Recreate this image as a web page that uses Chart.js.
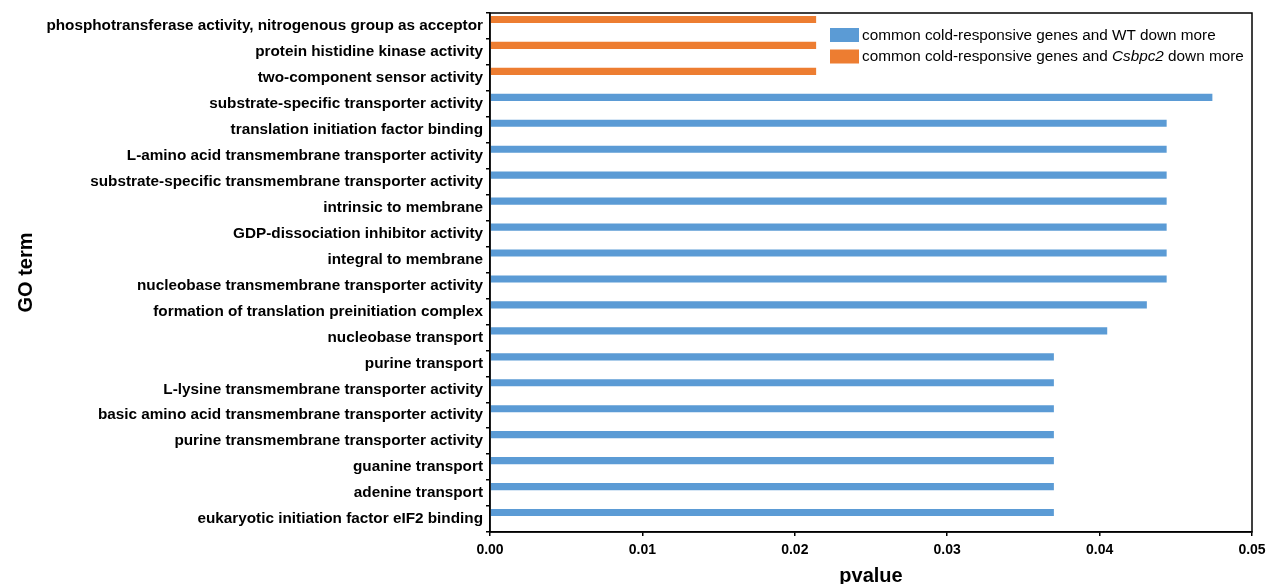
<!DOCTYPE html>
<html>
<head>
<meta charset="utf-8">
<script src="https://cdn.jsdelivr.net/npm/chart.js@4/dist/chart.umd.min.js"></script>
<style>
  html, body { margin: 0; padding: 0; background: #ffffff; }
  #wrap { width: 1268px; height: 584px; }
</style>
</head>
<body>
<div id="wrap"><canvas id="chart" width="1268" height="584"></canvas></div>
<script>
// GO terms, listed top to bottom
const goTerms = [
  'phosphotransferase activity, nitrogenous group as acceptor',
  'protein histidine kinase activity',
  'two-component sensor activity',
  'substrate-specific transporter activity',
  'translation initiation factor binding',
  'L-amino acid transmembrane transporter activity',
  'substrate-specific transmembrane transporter activity',
  'intrinsic to membrane',
  'GDP-dissociation inhibitor activity',
  'integral to membrane',
  'nucleobase transmembrane transporter activity',
  'formation of translation preinitiation complex',
  'nucleobase transport',
  'purine transport',
  'L-lysine transmembrane transporter activity',
  'basic amino acid transmembrane transporter activity',
  'purine transmembrane transporter activity',
  'guanine transport',
  'adenine transport',
  'eukaryotic initiation factor eIF2 binding'
];

// p-values: common cold-responsive genes and WT down more
const wtDownMore = [
  null, null, null,
  0.0474, 0.0444, 0.0444, 0.0444, 0.0444, 0.0444, 0.0444, 0.0444,
  0.0431, 0.0405,
  0.0370, 0.0370, 0.0370, 0.0370, 0.0370, 0.0370, 0.0370
];

// p-values: common cold-responsive genes and Csbpc2 down more
const csbpc2DownMore = [
  0.0214, 0.0214, 0.0214,
  null, null, null, null, null, null, null, null,
  null, null,
  null, null, null, null, null, null, null
];

const seriesNames = [
  'common cold-responsive genes and WT down more',
  'common cold-responsive genes and Csbpc2 down more'
];
const italicWord = 'Csbpc2';
const seriesColors = ['#5B9BD5', '#ED7D31'];

const xTickValues = [0, 0.01, 0.02, 0.03, 0.04, 0.05];

const FONT = '"Liberation Sans", Arial, sans-serif';

// frame around the plotting area
const framePlugin = {
  id: 'frame',
  afterDatasetsDraw(chart) {
    const { ctx, chartArea: a } = chart;
    ctx.save();
    ctx.strokeStyle = '#000';
    ctx.lineWidth = 1.5;
    ctx.strokeRect(a.left, a.top, a.right - a.left, a.bottom - a.top);
    ctx.restore();
  }
};

// legend drawn inside the plot, with the gene name in italics
const legendPlugin = {
  id: 'insideLegend',
  afterDraw(chart) {
    const { ctx, chartArea: a } = chart;
    const x0 = a.right - 422;
    const y0 = a.top + 15;
    const rowGap = 21.5;
    ctx.save();
    ctx.textBaseline = 'middle';
    chart.data.datasets.forEach((ds, i) => {
      if (!ds.inLegend) return;
      const y = y0 + i * rowGap;
      ctx.fillStyle = ds.backgroundColor;
      ctx.fillRect(x0, y, 29, 14);
      let x = x0 + 32;
      const parts = ds.label.split(new RegExp('(' + italicWord + ')'));
      parts.forEach(p => {
        if (!p) return;
        ctx.font = (p === italicWord ? 'italic ' : '') + '15.3px ' + FONT;
        ctx.fillStyle = '#000';
        ctx.fillText(p, x, y + 7.5);
        x += ctx.measureText(p).width;
      });
    });
    ctx.restore();
  }
};

new Chart(document.getElementById('chart'), {
  type: 'bar',
  data: {
    labels: goTerms,
    datasets: [
      { label: seriesNames[0], data: wtDownMore, backgroundColor: seriesColors[0], stack: 'go', inLegend: true },
      { label: seriesNames[1], data: csbpc2DownMore, backgroundColor: seriesColors[1], stack: 'go', inLegend: true },
      // empty companion slot, so each bar sits in the upper half of its row
      { label: '', data: goTerms.map(() => null), backgroundColor: 'rgba(0,0,0,0)', stack: 'pad', inLegend: false }
    ]
  },
  options: {
    indexAxis: 'y',
    responsive: false,
    animation: false,
    devicePixelRatio: 1,
    layout: { padding: { top: 13, right: 16, left: 0, bottom: 0 } },
    datasets: { bar: { barPercentage: 0.55, categoryPercentage: 1.0 } },
    plugins: { legend: { display: false }, tooltip: { enabled: false } },
    scales: {
      x: {
        type: 'linear',
        min: 0, max: 0.05,
        stacked: false,
        afterBuildTicks(scale) { scale.ticks = xTickValues.map(v => ({ value: v })); },
        afterFit(scale) {
          scale.height = 52;
          scale.paddingLeft = 0;
          scale.paddingRight = 0;
        },
        ticks: {
          color: '#000',
          padding: 6,
          font: { family: FONT, size: 14, weight: 'bold' },
          callback: v => Number(v).toFixed(2)
        },
        grid: { drawOnChartArea: false, tickLength: 4, color: '#000', lineWidth: 1.5 },
        border: { color: '#000', width: 1.5 },
        title: {
          display: true, text: 'pvalue', color: '#000',
          font: { family: FONT, size: 20, weight: 'bold' },
          padding: { top: 0, bottom: -4 }
        }
      },
      y: {
        type: 'category',
        stacked: true,
        offset: true,
        afterFit(scale) { scale.width = 490; },
        ticks: {
          color: '#000',
          padding: 3,
          autoSkip: false,
          font: { family: FONT, size: 15.3, weight: 'bold' }
        },
        grid: { offset: true, drawOnChartArea: false, tickLength: 4, color: '#000', lineWidth: 1.5 },
        border: { color: '#000', width: 1.5 },
        title: {
          display: true, text: 'GO term', color: '#000',
          font: { family: FONT, size: 20, weight: 'bold' },
          padding: { top: 14, bottom: 0 }
        }
      }
    }
  },
  plugins: [framePlugin, legendPlugin]
});
</script>
</body>
</html>
